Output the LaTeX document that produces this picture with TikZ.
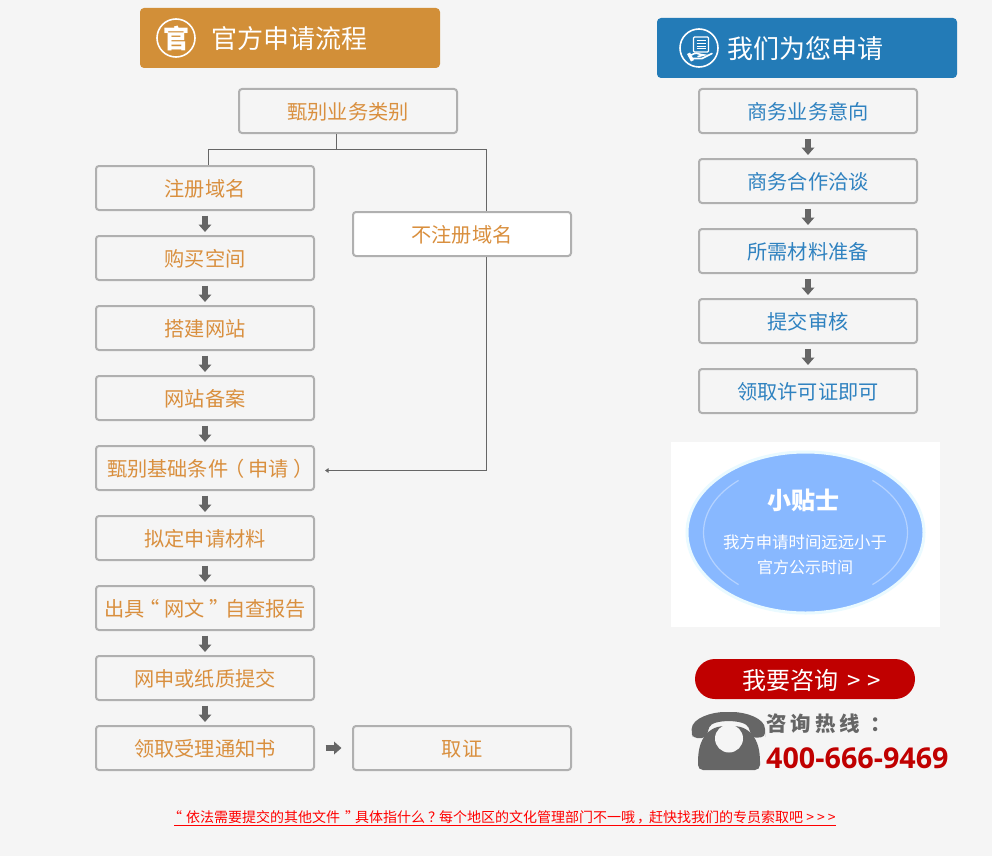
\documentclass[tikz,border=0pt]{standalone}
\usepackage{fontspec}
\usetikzlibrary{arrows.meta}
\setmainfont{Noto Sans CJK SC}
\newfontfamily\latinbold[Scale=1]{Open Sans}
\definecolor{pagebg}{HTML}{F5F5F5}
\definecolor{boxline}{HTML}{B0B0B0}
\definecolor{orangetext}{HTML}{D98F3E}
\definecolor{orangebar}{HTML}{D28F38}
\definecolor{bluetext}{HTML}{2F82C0}
\definecolor{bluebar}{HTML}{237BB7}
\definecolor{arrowgrey}{HTML}{666666}
\definecolor{ovalblue}{HTML}{88B8FF}
\definecolor{ovalglow}{HTML}{EAFAFF}
\definecolor{ovalring}{HTML}{B4D2FF}
\definecolor{hotred}{HTML}{C00000}
\tikzset{
  x=1pt,y=-1pt,
  flowbox/.style={draw=boxline,line width=2pt,rounded corners=3pt,minimum width=218pt,minimum height=44pt,inner sep=0pt,
    font=\fontsize{20.2}{24}\selectfont,text height=19pt,text depth=1.8pt},
  orangebox/.style={flowbox,text=orangetext},
  bluebox/.style={flowbox,text=bluetext},
  headbar/.style={rounded corners=4pt,minimum width=300pt,minimum height=60pt,inner sep=0pt},
  headtext/.style={text=white,inner sep=0pt,anchor=west,font=\fontsize{26}{30}\selectfont,text height=24pt,text depth=2pt},
  blockarrow/.style={draw=arrowgrey,line width=6.5pt,-{Triangle[length=7.5pt,width=12.5pt]},shorten <=4.5pt,shorten >=3pt},
  thinline/.style={draw=arrowgrey,line width=1pt},
  tipword/.style={text=white,inner sep=0pt,font=\fontsize{16.4}{20}\selectfont},
}
\begin{document}
\begin{tikzpicture}
\useasboundingbox (0,0) rectangle (992,856);
\fill[pagebg] (0,0) rectangle (992,856);

% header bars
\node[headbar,fill=orangebar] (leftbar) at (290,38) {};
\draw[white,line width=1.6pt] (176,38) circle (19pt);
\node[text=white,inner sep=0pt,font=\bfseries\fontsize{26}{30}\selectfont] (lefticon) at (176,38) {官};
\node[headtext] (lefttitle) at (211.5,38) {官方申请流程};

\node[headbar,fill=bluebar] (rightbar) at (807,48) {};
\draw[white,line width=1.6pt] (699,48) circle (19pt);
\draw[white,line width=1.2pt,rounded corners=1pt] (693.5,37) rectangle (708.5,52);
\foreach \yy in {40.5,43.5,46.5,49}{\draw[white,line width=1pt] (696.5,\yy) -- (705.5,\yy);}
\fill[white] (687,54) -- (690,52.5) -- (694,60) -- (691,61.5) -- cycle;
\draw[white,line width=1.6pt,line cap=round] (691.5,55) .. controls (695,52.5) and (698,53) .. (701,54.5) -- (704,55) -- (698,56.5);
\draw[white,line width=1.6pt,line cap=round] (693,58.5) -- (702,58.5) -- (712,53.5);
\node[headtext] (righttitle) at (727.5,48) {我们为您申请};

% left column
\node[orangebox] (kind) at (348,111) {甄别业务类别};
\node[orangebox] (a1) at (205,188) {注册域名};
\node[orangebox] (a2) at (205,258) {购买空间};
\node[orangebox] (a3) at (205,328) {搭建网站};
\node[orangebox] (a4) at (205,398) {网站备案};
\node[orangebox] (a5) at (205,468) {\hspace{6pt}甄别基础条件\kern-4pt（\kern4pt 申请\kern5pt）\kern-5pt};
\node[orangebox] (a6) at (205,538) {拟定申请材料};
\node[orangebox] (a7) at (205,608) {出具\kern-5pt“\kern5pt 网文\kern5pt”\kern-5pt 自查报告};
\node[orangebox] (a8) at (205,678) {网申或纸质提交};
\node[orangebox] (a9) at (205,748) {领取受理通知书};
\node[orangebox,fill=white] (noreg) at (462,234) {不注册域名};
\node[orangebox] (cert) at (462,748) {取证};

\foreach \p/\q in {a1/a2,a2/a3,a3/a4,a4/a5,a5/a6,a6/a7,a7/a8,a8/a9}{\draw[blockarrow] (\p) -- (\q);}
\draw[blockarrow,shorten <=10.5pt,shorten >=10.5pt] (a9) -- (cert);

% tree connectors
\coordinate (split) at (336.5,149.5);
\coordinate (splitl) at (208.5,149.5);
\coordinate (splitr) at (486.5,149.5);
\coordinate (turn) at (486.5,470.5);
\coordinate (intoa5) at (325,470.5);
\draw[thinline] (kind.south -| split) -- (split);
\draw[thinline] (a1.north -| splitl) -- (splitl) -- (splitr) -- (noreg.north -| splitr);
\draw[thinline,-{Triangle[length=3.5pt,width=4.5pt]}] (noreg.south -| turn) -- (turn) -- (intoa5);

% right column
\node[bluebox] (b1) at (808,111) {商务业务意向};
\node[bluebox] (b2) at (808,181) {商务合作洽谈};
\node[bluebox] (b3) at (808,251) {所需材料准备};
\node[bluebox] (b4) at (808,321) {提交审核};
\node[bluebox] (b5) at (808,391) {领取许可证即可};
\foreach \p/\q in {b1/b2,b2/b3,b3/b4,b4/b5}{\draw[blockarrow] (\p) -- (\q);}

% tip panel
\fill[white] (671,442) rectangle (940,627);
\fill[ovalblue,draw=ovalglow,line width=3pt] (805.5,532.5) ellipse [x radius=118.5pt,y radius=80.5pt];
\draw[ovalring,line width=1.2pt] (805.5,532.5) ++(131:102pt and 69pt) arc [start angle=131,end angle=229,x radius=102pt,y radius=69pt];
\draw[ovalring,line width=1.2pt] (805.5,532.5) ++(49:102pt and 69pt) arc [start angle=49,end angle=-49,x radius=102pt,y radius=69pt];
\node[text=white,inner sep=0pt,font=\bfseries\fontsize{24}{28}\selectfont] (tiptitle) at (803,500) {小贴士};
\node[tipword] (tip1) at (805,542) {我方申请时间远远小于};
\node[tipword,font=\fontsize{16}{20}\selectfont] (tip2) at (805,567) {官方公示时间};

% consult button
\node[fill=hotred,rounded corners=20pt,minimum width=220pt,minimum height=40pt,inner sep=0pt] (button) at (805,679) {};
\node[text=white,inner sep=0pt,anchor=west,font=\fontsize{24}{28}\selectfont] (buttontext) at (742.5,680) {我要咨询\hspace{9pt}>\hspace{6pt}>};

% telephone
\fill[arrowgrey,rounded corners=5pt] (698,770) -- (698,757) .. controls (700,742) and (706,726.5) .. (729,726) .. controls (752,726.5) and (758,742) .. (760,757) -- (760,770) -- cycle;
\fill[pagebg] (729,738.5) circle (14pt);
\draw[pagebg,line width=1.5pt] (707,731.5) .. controls (712,718.5) and (745,718.5) .. (751,731.5);
\fill[arrowgrey,rounded corners=4pt] (691.5,733) .. controls (692,718) and (712,712) .. (728.5,712) .. controls (745,712) and (765,718) .. (765,733) -- (765,737) -- (752,738) -- (750,731) .. controls (745,719) and (712,719) .. (708,731) -- (706,738) -- (693,738) -- cycle;
\node[text=arrowgrey,inner sep=0pt,anchor=west,font=\bfseries\fontsize{20.5}{24}\selectfont] (hotline) at (766,724) {咨\kern4pt 询\kern4pt 热\kern4pt 线\kern10pt ：};
\node[text=hotred,inner sep=0pt,anchor=west,font=\latinbold\bfseries\fontsize{28.7}{32}\selectfont] (phone) at (766,758) {400-666-9469};

% footer
\node[text=red,inner sep=0pt,anchor=south west,font=\fontsize{14}{16}\selectfont,text height=12pt,text depth=2.5pt] (foot) at (174,825.5) {\kern-6pt“\kern4pt 依法需要提交的其他文件\kern5pt”\kern-4pt 具体指什么\kern3pt？\kern-3pt 每个地区的文化管理部门不一哦\kern2pt，\kern-2pt 赶快找我们的专员索取吧 >\kern3pt >\kern3pt >};
\draw[red,line width=0.9pt] (foot.south west) -- (foot.south east);
\end{tikzpicture}
\end{document}
